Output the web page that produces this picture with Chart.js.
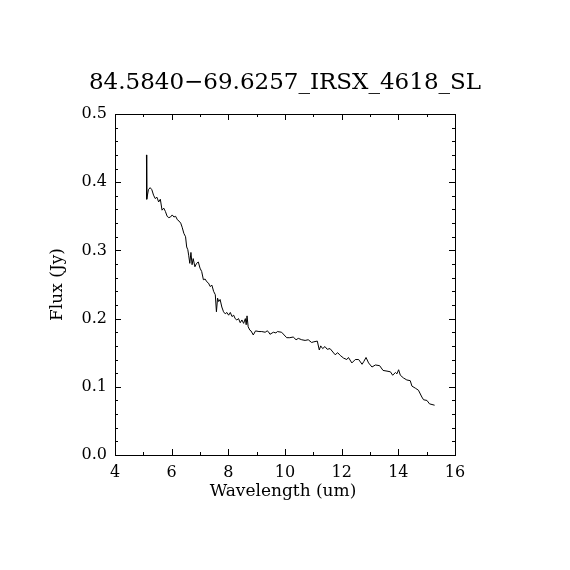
<!DOCTYPE html>
<html>
<head>
<meta charset="utf-8">
<script src="https://cdn.jsdelivr.net/npm/chart.js@4/dist/chart.umd.min.js"></script>
<style>
  html, body { margin: 0; padding: 0; background: #fff; }
  canvas { display: block; }
</style>
</head>
<body>
<canvas id="spec" width="570" height="570"></canvas>
<script>
// spectrum
const wavelength = [5.11, 5.12, 5.18, 5.24, 5.30, 5.36, 5.42, 5.48, 5.54, 5.60,
  5.66, 5.72, 5.78, 5.84, 5.90, 5.96, 6.02, 6.08, 6.14, 6.20,
  6.26, 6.32, 6.37, 6.43, 6.49, 6.53, 6.57, 6.60, 6.64, 6.68,
  6.72, 6.76, 6.82, 6.88, 6.94, 7.00, 7.06, 7.12, 7.18, 7.24,
  7.30, 7.36, 7.42, 7.48, 7.54, 7.58, 7.62, 7.66, 7.71, 7.77,
  7.83, 7.89, 7.95, 8.01, 8.07, 8.13, 8.19, 8.24, 8.30, 8.36,
  8.42, 8.48, 8.54, 8.60, 8.63, 8.66, 8.70, 8.76, 8.80, 8.88,
  8.96, 9.08, 9.18, 9.30, 9.37, 9.41, 9.47, 9.59, 9.68, 9.73,
  9.88, 10.06, 10.17, 10.29, 10.39, 10.47, 10.59, 10.71, 10.82, 10.94,
  11.02, 11.14, 11.21, 11.26, 11.33, 11.41, 11.49, 11.59, 11.69, 11.77,
  11.86, 11.95, 12.07, 12.18, 12.24, 12.36, 12.48, 12.60, 12.72, 12.78,
  12.86, 12.95, 13.07, 13.19, 13.34, 13.46, 13.60, 13.72, 13.80, 13.90,
  13.95, 14.01, 14.07, 14.18, 14.30, 14.42, 14.48, 14.60, 14.71, 14.83,
  14.89, 15.01, 15.10, 15.28];
const flux = [0.440, 0.375, 0.389, 0.392, 0.389, 0.381, 0.376, 0.378, 0.371, 0.375,
  0.359, 0.362, 0.357, 0.350, 0.348, 0.349, 0.352, 0.349, 0.350, 0.345,
  0.343, 0.340, 0.334, 0.325, 0.320, 0.305, 0.301, 0.293, 0.281, 0.297,
  0.279, 0.288, 0.276, 0.281, 0.283, 0.274, 0.269, 0.257, 0.258, 0.254,
  0.252, 0.247, 0.249, 0.240, 0.235, 0.210, 0.230, 0.225, 0.228, 0.217,
  0.210, 0.207, 0.209, 0.205, 0.209, 0.203, 0.205, 0.200, 0.198, 0.200,
  0.194, 0.198, 0.193, 0.200, 0.191, 0.204, 0.188, 0.183, 0.182, 0.176,
  0.182, 0.181, 0.181, 0.180, 0.182, 0.181, 0.177, 0.180, 0.179, 0.181,
  0.180, 0.172, 0.172, 0.173, 0.169, 0.171, 0.169, 0.168, 0.169, 0.165,
  0.166, 0.167, 0.154, 0.160, 0.156, 0.159, 0.155, 0.156, 0.151, 0.147,
  0.150, 0.146, 0.142, 0.140, 0.143, 0.135, 0.140, 0.140, 0.133, 0.137,
  0.143, 0.135, 0.129, 0.132, 0.131, 0.124, 0.123, 0.122, 0.117, 0.121,
  0.119, 0.125, 0.117, 0.113, 0.110, 0.109, 0.101, 0.098, 0.095, 0.085,
  0.081, 0.080, 0.075, 0.073];

const titleText = '84.5840\u221269.6257_IRSX_4618_SL';
const xTitle = 'Wavelength (um)';
const yTitle = 'Flux (Jy)';
const xTicks = [4, 6, 8, 10, 12, 14, 16];
const yTicks = [0.0, 0.1, 0.2, 0.3, 0.4, 0.5];
const xMinor = [5, 7, 9, 11, 13, 15];
const yMinor = [0.02, 0.04, 0.06, 0.08, 0.12, 0.14, 0.16, 0.18, 0.22, 0.24, 0.26, 0.28,
  0.32, 0.34, 0.36, 0.38, 0.42, 0.44, 0.46, 0.48];

const FONT = 'DejaVu Serif';

// box frame, inward ticks on every side, title and axis names
const framePlugin = {
    id: 'frame',
    afterDraw(chart) {
        const ctx = chart.ctx;
        const a = chart.chartArea;
        const xs = chart.scales.x, ys = chart.scales.y;
        ctx.save();
        ctx.strokeStyle = '#000';
        ctx.lineWidth = 1;
        ctx.strokeRect(a.left + 0.5, a.top + 0.5, a.right - a.left, a.bottom - a.top);

        ctx.beginPath();
        function xTick(v, len) {
            const px = Math.round(xs.getPixelForValue(v)) + 0.5;
            ctx.moveTo(px, a.bottom); ctx.lineTo(px, a.bottom - len);
            ctx.moveTo(px, a.top); ctx.lineTo(px, a.top + len);
        }
        function yTick(v, len) {
            const py = Math.round(ys.getPixelForValue(v)) + 0.5;
            ctx.moveTo(a.left, py); ctx.lineTo(a.left + len, py);
            ctx.moveTo(a.right, py); ctx.lineTo(a.right - len, py);
        }
        xTicks.forEach(v => xTick(v, 6));
        xMinor.forEach(v => xTick(v, 3));
        yTicks.forEach(v => yTick(v, 6));
        yMinor.forEach(v => yTick(v, 3));
        ctx.stroke();

        ctx.fillStyle = '#000';
        ctx.textAlign = 'center';
        ctx.textBaseline = 'middle';
        ctx.font = '23px "' + FONT + '"';
        ctx.fillText(titleText, 285, 83);

        ctx.font = '17px "' + FONT + '"';
        ctx.fillText(xTitle, 283, 492);

        ctx.translate(58, (a.top + a.bottom) / 2);
        ctx.rotate(-Math.PI / 2);
        ctx.fillText(yTitle, 0, 0);
        ctx.restore();
    }
};

new Chart(document.getElementById('spec'), {
    type: 'line',
    data: {
        datasets: [{
            data: wavelength.map((w, i) => ({ x: w, y: flux[i] })),
            borderColor: '#000',
            borderWidth: 1,
            pointRadius: 0,
            tension: 0,
            fill: false
        }]
    },
    options: {
        responsive: false,
        animation: false,
        layout: { padding: { left: 0, top: 114, right: 115, bottom: 0 } },
        plugins: { legend: { display: false }, tooltip: { enabled: false } },
        scales: {
            x: {
                type: 'linear',
                min: 4, max: 16,
                grid: { display: false, drawTicks: false, tickLength: 0 },
                border: { display: false },
                afterFit(s) { s.height = 115; },
                afterBuildTicks(s) { s.ticks = xTicks.map(v => ({ value: v })); },
                ticks: {
                    color: '#000',
                    font: { family: FONT, size: 16 },
                    padding: 8,
                    maxRotation: 0,
                    callback: v => String(v)
                }
            },
            y: {
                min: 0, max: 0.5,
                grid: { display: false, drawTicks: false, tickLength: 0 },
                border: { display: false },
                afterFit(s) { s.width = 115; },
                afterBuildTicks(s) { s.ticks = yTicks.map(v => ({ value: v })); },
                ticks: {
                    color: '#000',
                    font: { family: FONT, size: 16 },
                    padding: 8,
                    callback: v => v.toFixed(1)
                }
            }
        }
    },
    plugins: [framePlugin]
});
</script>
</body>
</html>
